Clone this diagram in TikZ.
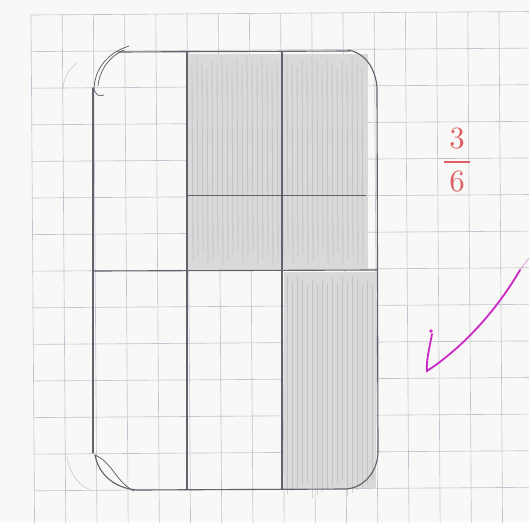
\documentclass[tikz,border=0pt]{standalone}
\usepackage{tikz}
\definecolor{paper}{RGB}{248,248,246}
\definecolor{gridblue}{RGB}{196,196,208}
\definecolor{pencil}{RGB}{98,98,108}
\definecolor{inkred}{RGB}{222,96,100}
\definecolor{inkpink}{RGB}{204,42,198}

\begin{document}
\begin{tikzpicture}[x=0.05cm, y=-0.05cm,
  gridline/.style={gridblue, line width=0.9pt},
  pencil/.style={draw=pencil, line width=1.6pt, line cap=round, line join=round},
  thinpencil/.style={pencil, line width=1.1pt},
  faint/.style={draw=pencil!30, line width=1pt},
  shade/.style={fill=black!15, draw=none},
  stroke/.style={black!30, line width=1.2pt, line cap=round, opacity=0.55},
  tick/.style={draw=inkpink, line width=2.6pt, line cap=round},
]
  \useasboundingbox (0,0) rectangle (529,522);
  \fill[paper] (0,0) rectangle (529,522);

  % squared paper, a little tilted in the scan
  \begin{scope}
    \clip (0,0) rectangle (529,522);
    \begin{scope}[rotate around={0.4:(31,15)}]
      \foreach \i in {0,...,16}
        \draw[gridline] ({31+31.2*\i},15) -- ({31+31.2*\i},540);
      \foreach \j in {0,...,14}
        \draw[gridline] (31,{15+36.6*\j}) -- (560,{15+36.6*\j});
    \end{scope}
  \end{scope}

  % shaded parts
  \fill[shade] (188,54) rectangle (368,270);
  \fill[shade] (284,272) rectangle (376,488);
  \foreach \x in {192,197,...,364}
    \draw[stroke] (\x,{57+mod(\x,13)}) -- (\x+1,{266-mod(\x,17)});
  \foreach \x in {287,292,...,372}
    \draw[stroke] (\x,{276+mod(\x,11)}) -- (\x,{480+mod(\x*7,19)});

  % outline of the bar
  \draw[pencil] (118,52) -- (350,51);
  \draw[pencil] (348,50) .. controls (366,53) and (376,70) .. (377,88) -- (378,453)
    .. controls (377,474) and (362,488) .. (346,489) -- (137,490)
    .. controls (112,488) and (98,472) .. (95,455);
  \draw[pencil] (93,453) -- (93,88);
  \draw[thinpencil] (129,46) .. controls (104,54) and (95,72) .. (94,88)
    .. controls (95,95) and (99,97) .. (104,95);
  \draw[thinpencil] (124,50) .. controls (106,58) and (99,74) .. (98,86);
  \draw[thinpencil] (95,455) .. controls (112,462) and (116,482) .. (134,491);
  \draw[faint] (77,63) .. controls (68,70) and (64,78) .. (63,88);
  \draw[faint] (67,457) .. controls (70,475) and (80,487) .. (93,491);

  % six parts
  \draw[pencil] (93,271) -- (377,270);
  \draw[pencil] (187,52) -- (187,489);
  \draw[pencil] (282,52) -- (282,489);
  \draw[thinpencil] (188,195) -- (366,195);

  \node[text=inkred, scale=4.4] (frac) at (457,160)
    {$\displaystyle\frac{\,3\,}{\,6\,}$};

  \fill[inkpink] (431,331) circle (1.8);
  \draw[tick] (432,334) .. controls (429,350) and (426,362) .. (427,371)
    .. controls (465,346) and (498,308) .. (520,270);
  \draw[tick, opacity=0.35, line width=1.6pt] (520,270) -- (529,258);
\end{tikzpicture}
\end{document}
